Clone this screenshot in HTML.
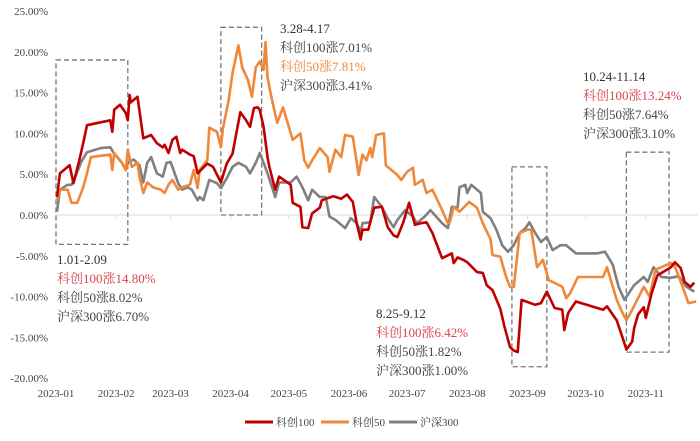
<!DOCTYPE html>
<html><head><meta charset="utf-8"><style>
html,body{margin:0;padding:0;background:#fff}
svg{display:block}
text{font-family:"Liberation Serif","Noto Serif CJK SC",serif}
</style></head><body>
<svg id="chart" width="700" height="441" viewBox="0 0 700 441" xmlns="http://www.w3.org/2000/svg">
<g id="axes"></g>
<g id="boxes"></g>
<g id="series"></g>
<g id="notes"></g>
<g id="legend"></g>
</svg>
<script>
const monthLabels=["2023-01","2023-02","2023-03","2023-04","2023-05","2023-06","2023-07","2023-08","2023-09","2023-10","2023-11"];
const monthDays=[0,31,59,90,120,151,181,212,243,273,304];
const yTicks=[25,20,15,10,5,0,-5,-10,-15,-20];
const seriesNames=["科创100","科创50","沪深300"];
const redDays=[0.5,2,7,9,12,14,16,28,29,30,33,36,37,38,38.5,42,45,49,52,55,56,58,60,62,64,65,69,71,73,78,81,85,88,91,95,98,100,102,104,105,107,109,110,113,115,121,122,126,127,130,132,136,137,143,147,150,153,155,157,158,161,164,168,171,174,176,179,182,185,188,191,194,199,204,205,207,210,212,217,220,222,225,229,231,234,236,238,240,247,250,253,257,261,262,264,268,282,284,289,292,294,297,298,300,303,304,307,310,317,319,322,324,327,329];
const redVals=[2.2,5.1,6.1,3.9,6.7,8.8,11,11.6,10.2,12.9,13.5,12.5,11.6,14.7,13.8,14.5,9.4,9.8,8.8,8.3,8.6,7.6,9.2,9.6,7.6,8,7.4,7.2,5.1,6.3,5.9,4,6.3,7.5,12.6,11.6,10.8,13.1,13.2,12.9,10.8,7.1,5.9,3.1,4.7,3.7,1.5,1,-1.5,-1.6,0.2,0.9,1.8,2.3,2,2.5,1.6,-1,-3,-1.8,-1.8,0.9,1,-1.5,-2.5,-2.7,-0.9,1.5,-1.2,-1,-0.9,-2.2,-5.3,-4.7,-5.9,-5.2,-5.5,-5.8,-7,-7.1,-8.6,-9.2,-11.5,-13.5,-16.2,-16.6,-16.8,-10.4,-11,-10.8,-9.4,-11.4,-11.6,-14.1,-12,-10.6,-11.6,-11.2,-12.9,-15,-16.5,-15.5,-13.9,-12.2,-11.3,-12.6,-9.6,-7.4,-6.4,-5.8,-6.5,-8.2,-8.8,-8.3];
const orangeDays=[0.5,2,6,8,11,14,16,18,28,29,30,34,36,37,39,42,43,45,47,50,54,56,58,60,63,65,69,71,73,74,78,79,83,85,86,89,91,94,96,99,101,103,105,107,108,109,111,114,117,122,126,128,130,132,136,140,141,144,147,149,153,156,158,160,162,163,165,169,170,176,178,181,184,185,189,191,194,199,202,203,205,208,213,217,220,224,225,229,232,234,236,239,243,245,248,251,254,256,261,263,265,269,282,284,289,292,294,297,303,306,309,317,319,323,326,330];
const orangeVals=[1.8,3.1,3.1,1.5,1.5,3.4,5.1,7.1,7.4,5.5,7.6,6.4,5.5,8,5.9,6.4,4.7,2.7,4,3.4,3.1,2.7,3.7,4.3,3.1,3.4,3.7,5.5,3.3,5.5,6.7,10.7,10.2,8.3,10.5,14.1,17.4,20.8,18.1,16.5,14.5,18.1,18.8,17.8,21.2,16.9,14.5,11.3,13.2,9.2,10,6.7,5.8,6.7,8.2,7.1,5.3,8,7.1,9.8,9.6,4.9,7.4,6.7,8.2,7.1,9.8,10,6.1,4.9,4.3,5.3,5.8,3.7,4.3,2.7,3.1,0.6,-1,-0.9,1,0.4,1.6,0.9,-1,-3,-4.9,-5.1,-7.6,-8.8,-8.8,-2.2,-1.8,-1.8,-6.4,-5.5,-8,-8.2,-8.8,-10.2,-9.6,-7.6,-7.6,-6.4,-10.4,-12,-12.9,-11.6,-8.8,-10,-6.7,-5.9,-6.3,-8.8,-10.8,-10.6];
const grayDays=[0.5,2,6,8,10,13,16,23,28,30,34,36,37,40,43,45,47,49,52,55,57,59,60,63,65,68,70,73,74,76,79,83,85,88,91,94,98,100,103,105,107,109,113,115,121,124,127,130,132,136,139,141,144,149,152,155,157,158,162,164,168,171,174,176,180,184,186,190,193,196,199,202,204,207,208,211,212,214,219,220,224,227,230,233,236,239,242,244,247,250,253,256,260,263,268,279,283,287,290,293,298,303,305,308,312,317,321,325,329];
const grayVals=[0.4,3.1,3.7,3.7,4.7,6.5,7.7,8.2,8.3,7.5,6.4,5.5,6.4,6.8,6.1,4,6.4,7.1,5.1,4.7,6.4,6.5,5.9,3.9,3.1,3.4,3.1,1.8,2.2,1.8,4.3,3.9,3.3,4.5,5.9,6.4,5.9,5.1,6.4,7.6,6.4,5.1,2.2,4,4,4.7,3.4,1.8,3.1,2.2,2.2,-0.2,-0.6,-1.6,-0.4,-1,-2.1,-1,-0.9,2.2,1,-0.4,-1.5,-0.6,0.6,-0.2,-1,-0.2,0.6,-0.2,-1,-1.6,1,0.9,3.4,3.7,2.7,3.7,2.7,0.4,-0.4,-1.8,-3.7,-4.5,-3.7,-2.2,-1.6,-0.9,-2.2,-3.3,-2.7,-4.3,-3.7,-3.7,-4.7,-4.7,-4.5,-6.1,-8.8,-10.4,-8.6,-7.6,-8.2,-6.4,-7.6,-7.7,-7.5,-8.8,-9.4];
const boxRanges=[[0,37,19,-3.6],[85,106,23,0],[235,253,5.9,-18.6],[294,316,7.7,-16.8]];

const NS="http://www.w3.org/2000/svg";
const X0=56,PXD=1.94,Y0=215,PXV=8.16;
const xs=d=>X0+d*PXD, ys=v=>Y0-v*PXV;
function mk(tag,attrs,parent,txt){const e=document.createElementNS(NS,tag);for(const k in attrs)e.setAttribute(k,attrs[k]);if(txt!==undefined)e.textContent=txt;parent.appendChild(e);return e;}
const axes=document.getElementById('axes');
yTicks.forEach(v=>{
  const t=mk('text',{x:48,y:ys(v)+4,'text-anchor':'end','font-size':11,fill:'#444'},axes,v.toFixed(2)+'%');
  
  
});
const zl=mk('line',{x1:X0,x2:698,y1:Y0,y2:Y0,stroke:'#d9d9d9','stroke-width':1},axes);


monthLabels.forEach((m,i)=>{
  const x=xs(monthDays[i]);
  const tk=mk('line',{x1:x,x2:x,y1:Y0,y2:Y0+4,stroke:'#d9d9d9'},axes);
  
  
  const t=mk('text',{x:x,y:397,'text-anchor':'middle','font-size':11,fill:'#444'},axes,m);
  
  
});
const boxes=document.getElementById('boxes');
boxRanges.forEach(b=>{
  const r=mk('rect',{x:xs(b[0]),y:ys(b[2]),width:xs(b[1])-xs(b[0]),height:ys(b[3])-ys(b[2]),fill:'none',stroke:'#777','stroke-width':1.3,'stroke-dasharray':'5,3'},boxes);
  
  
});
const sg=document.getElementById('series');
const colors=['#c00000','#f0883a','#808080'];
const dd=[redDays,orangeDays,grayDays],vv=[redVals,orangeVals,grayVals];
[2,1,0].forEach(i=>{
  const pts=dd[i].map((d,j)=>xs(d).toFixed(1)+','+ys(vv[i][j]).toFixed(1)).join(' ');
  const p=mk('polyline',{points:pts,fill:'none',stroke:colors[i],'stroke-width':2.6,'stroke-linejoin':'round'},sg);
  
  
});
const lg=document.getElementById('legend');
const lx=[245,321,389];
seriesNames.forEach((n,i)=>{
  const l=mk('line',{x1:lx[i],x2:lx[i]+28,y1:422,y2:422,stroke:colors[i],'stroke-width':3},lg);
  
  
  const t=mk('text',{x:lx[i]+31,y:426,'font-size':11,fill:'#444'},lg,n);
  
  
});
</script>
<script>
(function(){
const notes=document.getElementById('notes');
const groups=[
 [280,33,[["3.28-4.17","#333"],["科创100涨7.01%","#444"],["科创50涨7.81%","#f0883a"],["沪深300涨3.41%","#444"]]],
 [583,81,[["10.24-11.14","#333"],["科创100涨13.24%","#d9434f"],["科创50涨7.64%","#444"],["沪深300涨3.10%","#444"]]],
 [57,264,[["1.01-2.09","#333"],["科创100涨14.80%","#d9434f"],["科创50涨8.02%","#444"],["沪深300涨6.70%","#444"]]],
 [376,318,[["8.25-9.12","#333"],["科创100涨6.42%","#d9434f"],["科创50涨1.82%","#444"],["沪深300涨1.00%","#444"]]]
];
groups.forEach(g=>{g[2].forEach((l,i)=>{
  const t=document.createElementNS("http://www.w3.org/2000/svg",'text');
  t.setAttribute('x',g[0]);t.setAttribute('y',g[1]+i*19);
  t.setAttribute('font-size',13);t.setAttribute('fill',l[1]);
  t.textContent=l[0];
  
  
  notes.appendChild(t);
});});
})();
</script>
</body></html>
